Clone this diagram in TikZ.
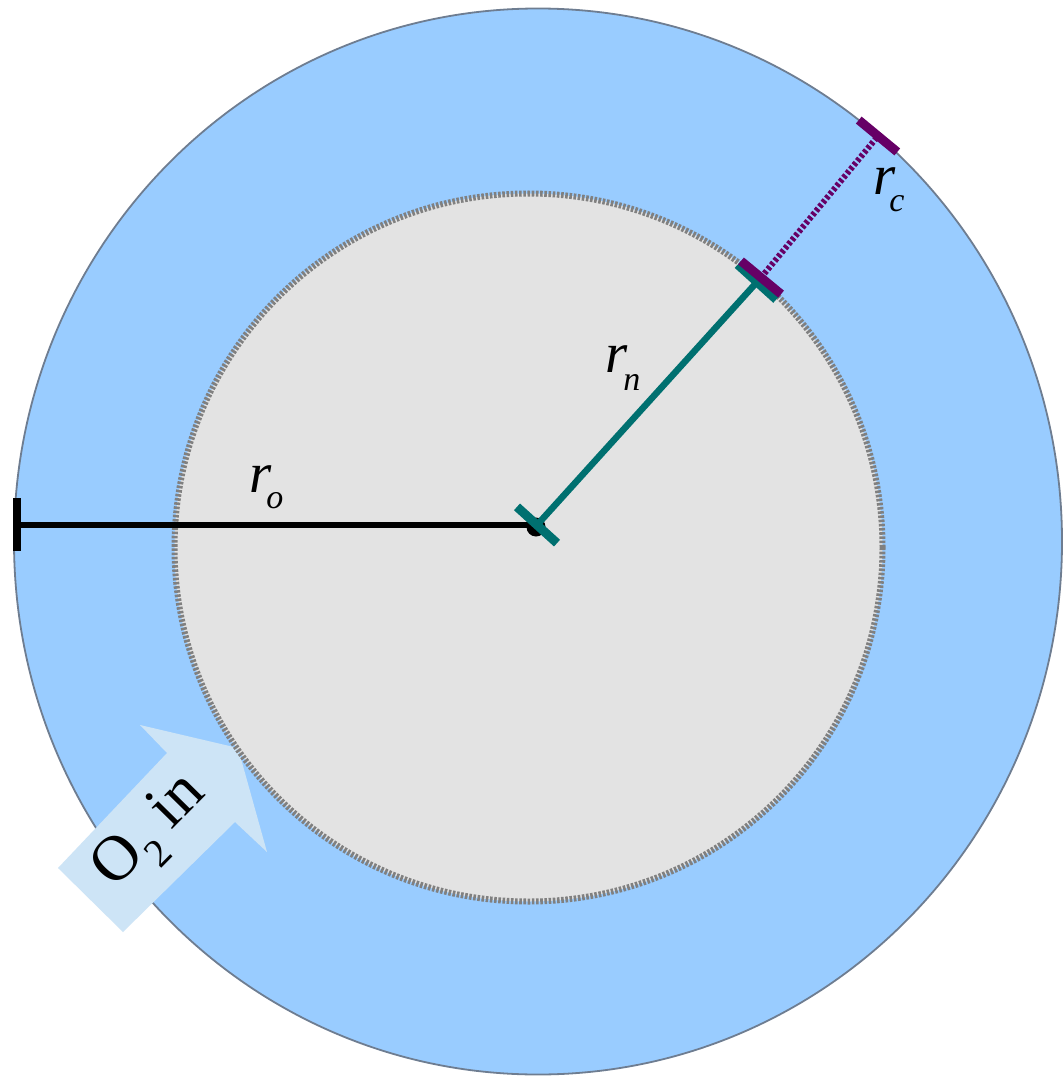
\documentclass[tikz,border=0pt]{standalone}
\usepackage{fontspec}
\setmainfont{Liberation Serif}
\usetikzlibrary{calc}
\definecolor{ringblue}{RGB}{153,204,255}
\definecolor{ringedge}{RGB}{110,125,145}
\definecolor{coregray}{RGB}{227,227,227}
\definecolor{coreedge}{RGB}{128,128,128}
\definecolor{arrowblue}{RGB}{205,228,246}
\definecolor{tealc}{RGB}{0,112,112}
\definecolor{purplec}{RGB}{102,0,102}
\begin{document}
\begin{tikzpicture}[x=1pt,y=-1pt,
  lbl/.style={inner sep=0pt, font=\rmfamily\fontsize{57}{60}\selectfont\itshape},
  radline/.style={line width=6.5},
  tealline/.style={draw=tealc, line width=6.5},
  tealbar/.style={draw=tealc, line width=9},
  purpbar/.style={draw=purplec, line width=9},
  purpdots/.style={draw=purplec, line width=6, dash pattern=on 3.2 off 2.2}]
\useasboundingbox (0,0) rectangle (1063,1078);
\fill[white] (0,0) rectangle (1063,1078);
% outer ring
\draw[fill=ringblue, draw=ringedge, line width=1.8] (538,541.5) ellipse [x radius=524, y radius=533];
% O2 arrow
\fill[arrowblue] (238,748) -- (267,852) -- (235,822) -- (123,932) -- (58,868) -- (167,753) -- (140,725) -- cycle;
\node[rotate=45.5, inner sep=0pt, font=\rmfamily\fontsize{64}{68}\selectfont] (o2) at (152,834)
  {O\raisebox{-0.3em}{\fontsize{40}{42}\selectfont 2} in};
% inner core
\fill[coregray] (528.5,547.5) circle[radius=354];
\draw[draw=coreedge, line width=6, dash pattern=on 2.6 off 1.6] (528.5,547.5) circle[radius=354];
% coordinates
\coordinate (C) at (537,525);
\coordinate (L) at (17,525);
\coordinate (N) at (757,282);
\coordinate (T) at (878,136);
\coordinate (P) at ($(N)!-6pt!(C)$);
% r_o
\draw[radline] (C) -- (L);
\draw[line width=8] ($(L)+(0,-27)$) -- ($(L)+(0,26)$);
\fill (536,527) circle[radius=9.5];
% r_n
\draw[tealline] (C) -- (N);
\draw[tealbar] ($(C)!27pt!90:(N)$) -- ($(C)!27pt!-90:(N)$);
\draw[tealbar] ($(N)!26pt!90:(C)$) -- ($(N)!26pt!-90:(C)$);
% r_c
\draw[purpdots] (P) -- (T);
\draw[purpbar] ($(P)!26pt!90:(T)$) -- ($(P)!26pt!-90:(T)$);
\draw[purpbar] ($(T)!25pt!90:(P)$) -- ($(T)!25pt!-90:(P)$);
% labels
\node[lbl, anchor=base west] (ro) at (249,492) {r\kern-5pt\raisebox{-16pt}{\fontsize{34}{36}\selectfont o}};
\node[lbl, anchor=base west] (rn) at (605,372) {r\kern-4pt\raisebox{-18pt}{\fontsize{34}{36}\selectfont n}};
\node[lbl, anchor=base west] (rc) at (873,195) {r\kern-6pt\raisebox{-17pt}{\fontsize{34}{36}\selectfont c}};
\end{tikzpicture}
\end{document}
